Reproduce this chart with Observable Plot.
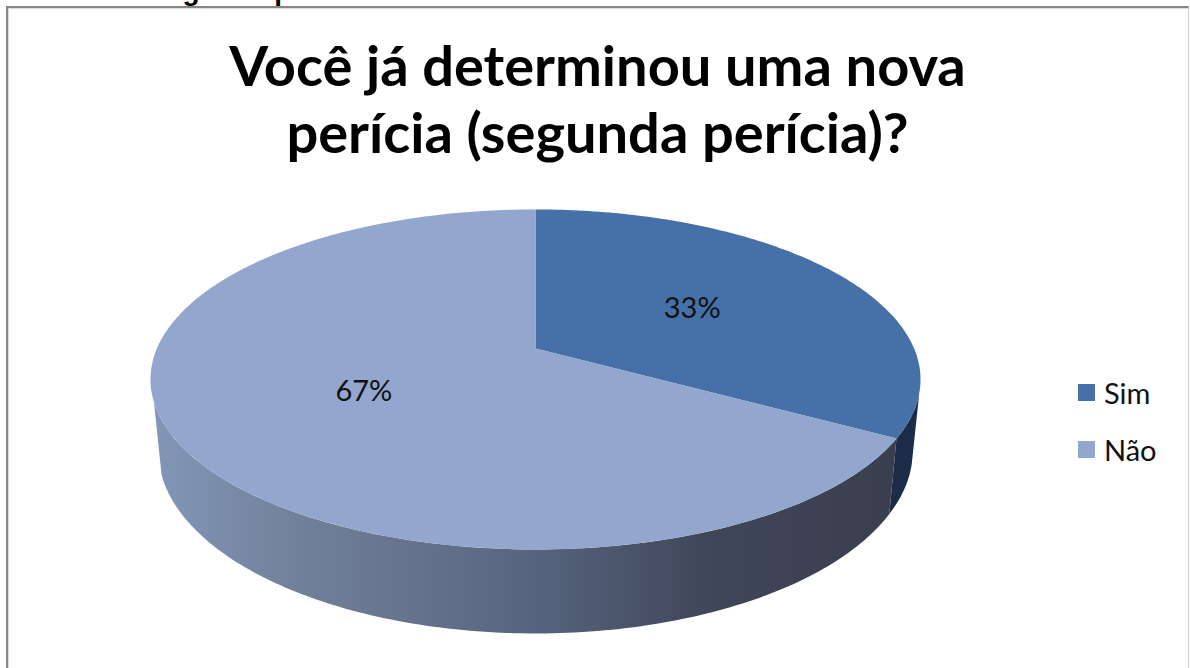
<!DOCTYPE html>
<html><head><meta charset="utf-8">
<script src="https://cdn.jsdelivr.net/npm/d3@7"></script>
<script src="https://cdn.jsdelivr.net/npm/@observablehq/plot@0.6"></script>
<style>
html,body{margin:0;padding:0;background:#fff;width:1190px;height:668px;overflow:hidden}
#wrap{position:relative;width:1190px;height:668px;overflow:hidden}
#wrap svg{position:absolute;left:0;top:0}
.cap{position:absolute;left:2px;top:-25px;font:bold 28px "Liberation Sans",sans-serif;color:#000;white-space:nowrap}
.title{position:absolute;left:0;width:1195px;text-align:center;font:bold 56px Lato,sans-serif;color:#000;white-space:nowrap}
.frame{position:absolute;left:6px;top:6px;width:1183px;height:700px;border:2px solid #868686;border-right:1px solid #cfcfcf;box-sizing:border-box;box-shadow:inset 1px 1px 0 #dcdcdc}
.lg{position:absolute;left:1078px;font:29px Lato,sans-serif;color:#111;white-space:nowrap;display:flex;align-items:center;gap:9px}
.lg i{display:block;width:17px;height:17px}
</style></head><body><div id="wrap"></div>
<script>
const categories = ["Sim", "Não"];
const shares = [33.3, 66.7];
const labels = ["33%", "67%"];
const topColors = ["#4571a8", "#92a6ce"];
const wallColors = ["#1a2c47", "url(#wallFade)"];
const titleLines = ["Você já determinou uma nova", "perícia (segunda perícia)?"];
const captionText = "Gráfico 8 - Segunda perícia";

// 3D pie view: perspective projection of the unit disc
const view = {cx: 535, cy: 348, a: 378.6, b: 164.4, k: 0.182, wall: 68.7, shrink: 0.98};
function project(r, th, low) {
  const u = r * Math.sin(th), v = r * Math.cos(th), d = 1 + view.k * v;
  const s = low ? view.shrink : 1;
  return {
    x: view.cx + s * view.a * u / d,
    y: view.cy - view.b * v / d + (low ? view.wall / d : 0)
  };
}
function arc(t0, t1, low) {
  const n = Math.max(2, Math.ceil(Math.abs(t1 - t0) * 60)), out = [];
  for (let i = 0; i <= n; i++) out.push(project(1, t0 + (t1 - t0) * i / n, low));
  return out;
}
const total = d3.sum(shares);
let acc = 0;
const slices = categories.map((c, i) => {
  const t0 = acc / total * 2 * Math.PI; acc += shares[i];
  const t1 = acc / total * 2 * Math.PI;
  return {c, i, t0, t1, mid: (t0 + t1) / 2};
});
const sliceTop = s => [project(0, 0), ...arc(s.t0, s.t1)];
const rad = d => d * Math.PI / 180;
// visible part of each slice's outer wall, limited by the outline of the cylinder
const wallOf = s => {
  const a = Math.max(s.t0, rad(105)), b = Math.min(s.t1, rad(252));
  return [...arc(a, b), ...arc(b, a, true)];
};
const labelRows = slices.map(s => ({...project(0.5, s.mid), text: labels[s.i]}));

const chart = Plot.plot({
  width: 1190, height: 668, margin: 0,
  x: {domain: [0, 1190], range: [0, 1190], axis: null},
  y: {domain: [0, 668], range: [0, 668], axis: null},
  style: {background: "transparent", overflow: "visible"},
  marks: [
    ...slices.map(s => Plot.line(wallOf(s), {x: "x", y: "y", fill: wallColors[s.i], stroke: "none"})),
    ...slices.map(s => Plot.line(sliceTop(s), {x: "x", y: "y", fill: topColors[s.i], stroke: "none"})),
    Plot.text(labelRows, {x: "x", y: "y", text: "text", fontSize: 29, fontFamily: "Lato, sans-serif", fill: "#111"})
  ]
});
chart.insertAdjacentHTML("afterbegin", `<defs><linearGradient id="wallFade" x1="0" x2="1" y1="0" y2="0">
<stop offset="0" stop-color="#8196b8"/><stop offset="0.2" stop-color="#718099"/>
<stop offset="0.5" stop-color="#586580"/><stop offset="0.75" stop-color="#3f4658"/>
<stop offset="1" stop-color="#3a3f4f"/></linearGradient></defs>`);
const wrap = document.getElementById("wrap");
wrap.appendChild(chart);
wrap.insertAdjacentHTML("beforeend", `<div class="cap">${captionText}</div><div class="frame"></div>`);
titleLines.forEach((t, i) => wrap.insertAdjacentHTML("beforeend", `<div class="title" style="top:${31 + i * 67}px">${t}</div>`));
categories.forEach((c, i) => wrap.insertAdjacentHTML("beforeend",
  `<div class="lg" style="top:${375 + i * 57}px"><i style="background:${topColors[i]}"></i>${c}</div>`));
</script></body></html>
